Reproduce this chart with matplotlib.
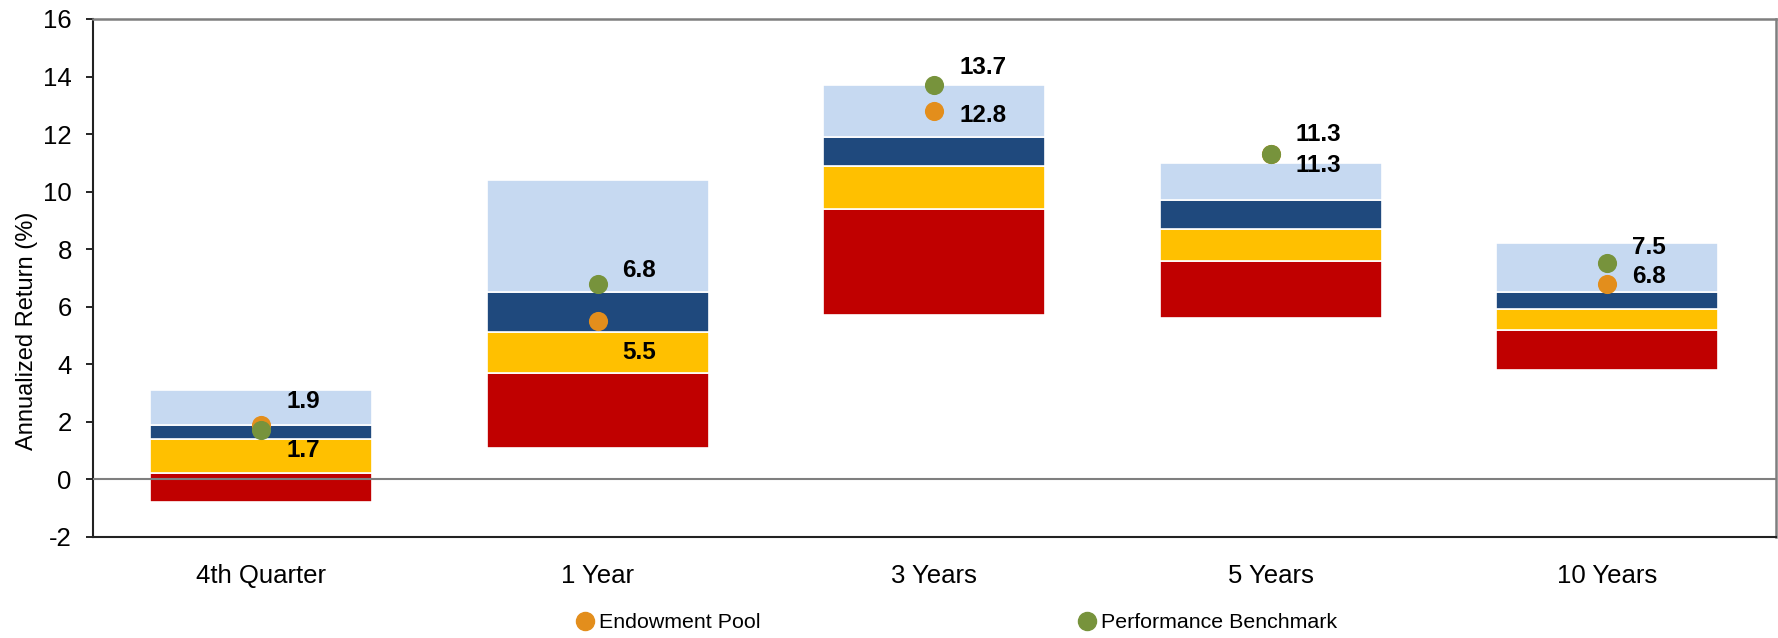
import matplotlib
matplotlib.use("Agg")
import matplotlib.pyplot as plt
from matplotlib.lines import Line2D
from matplotlib import font_manager

# ---------------- data ----------------
categories = ["4th Quarter", "1 Year", "3 Years", "5 Years", "10 Years"]
p_low  = [-0.8, 1.1, 5.7, 5.6, 3.8]    # bottom of range
p_25   = [0.2, 3.7, 9.4, 7.6, 5.2]
p_50   = [1.4, 5.1, 10.9, 8.7, 5.9]
p_75   = [1.9, 6.5, 11.9, 9.7, 6.5]
p_high = [3.1, 10.4, 13.7, 11.0, 8.2]  # top of range
endowment = [1.9, 5.5, 12.8, 11.3, 6.8]
benchmark = [1.7, 6.8, 13.7, 11.3, 7.5]
yticks = [-2, 0, 2, 4, 6, 8, 10, 12, 14, 16]

# label vertical offsets (styling, data units)
endow_label_dy = [0.8, -1.1, -0.15, -0.38, 0.23]
bench_label_dy = [-0.7, 0.47, 0.6, 0.67, 0.56]

# ---------------- style ----------------
avail = {f.name for f in font_manager.fontManager.ttflist}
fam = ["Liberation Sans Narrow", "Liberation Sans", "DejaVu Sans"]
fam = [f for f in fam if f in avail] or ["DejaVu Sans"]
plt.rcParams["font.family"] = fam

c_red = "#C00000"
c_yel = "#FFC000"
c_dblue = "#1F497D"
c_lblue = "#C6D9F1"
c_orange = "#E38E1C"
c_green = "#77933C"

fig = plt.figure(figsize=(17.78, 6.38), dpi=100)
ax = fig.add_axes([92.7 / 1778, 1 - 536.7 / 638, (1775.7 - 92.7) / 1778, (536.7 - 19) / 638])

x = list(range(len(categories)))
w = 0.66
segs = [(p_low, p_25, c_red), (p_25, p_50, c_yel), (p_50, p_75, c_dblue), (p_75, p_high, c_lblue)]
for lo, hi, col in segs:
    ax.bar(x, [h - l for l, h in zip(lo, hi)], bottom=lo, width=w, color=col,
           edgecolor="white", linewidth=1.2, zorder=2)

ax.axhline(0, color="#7F7F7F", linewidth=1.5, zorder=3)

ax.scatter(x, endowment, s=190, color=c_orange, zorder=4, linewidths=0)
ax.scatter(x, benchmark, s=190, color=c_green, zorder=5, linewidths=0)

for i in x:
    ax.annotate(f"{endowment[i]:.1f}", (i, endowment[i] + endow_label_dy[i]),
                xytext=(18, 0), textcoords="offset points", ha="left", va="center",
                fontsize=17.5, fontweight="bold", color="black", zorder=6)
    ax.annotate(f"{benchmark[i]:.1f}", (i, benchmark[i] + bench_label_dy[i]),
                xytext=(18, 0), textcoords="offset points", ha="left", va="center",
                fontsize=17.5, fontweight="bold", color="black", zorder=6)

ax.set_xlim(-0.5, len(categories) - 0.5)
ax.set_ylim(-2, 16)
ax.set_yticks(yticks)
ax.set_yticklabels([str(v) for v in yticks])
ax.set_xticks(x)
ax.set_xticklabels(categories)
ax.tick_params(axis="y", direction="out", length=5, width=1.2, labelsize=18.5, pad=10)
ax.tick_params(axis="x", length=0, labelsize=18.5, pad=19.5)
ax.set_ylabel("Annualized Return (%)", fontsize=17)
ax.yaxis.set_label_coords((38 - 92.7) / 1683, 0.397)

for s in ["left", "bottom"]:
    ax.spines[s].set_color("#222222")
    ax.spines[s].set_linewidth(1.5)
for s in ["top", "right"]:
    ax.spines[s].set_color("#7F7F7F")
    ax.spines[s].set_linewidth(1.8)

handles = [Line2D([], [], marker="o", linestyle="none", markersize=13, color=c_orange, label="Endowment Pool"),
           Line2D([], [], marker="o", linestyle="none", markersize=13, color=c_green, label="Performance Benchmark")]
fig.legend(handles=handles, ncol=2, loc="center", bbox_to_anchor=(955.7 / 1778, 1 - 623 / 638),
           frameon=False, fontsize=15.4, handlelength=1.0, handletextpad=0.15, columnspacing=14.8,
           borderpad=0, borderaxespad=0)

fig.savefig("out.png", dpi=100)
